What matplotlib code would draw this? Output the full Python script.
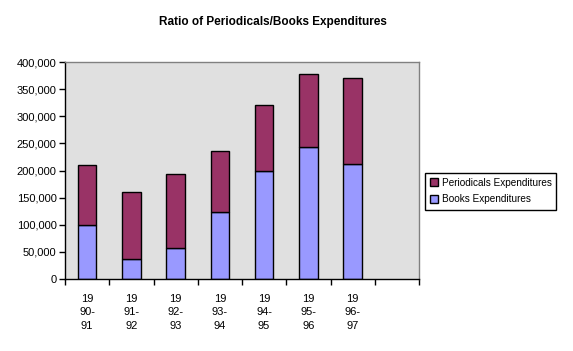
import matplotlib.pyplot as plt
import numpy as np
from matplotlib.ticker import FuncFormatter, FixedLocator

plt.rcParams['font.family'] = ['Liberation Sans', 'DejaVu Sans']

years = ["19\n90-\n91", "19\n91-\n92", "19\n92-\n93", "19\n93-\n94",
         "19\n94-\n95", "19\n95-\n96", "19\n96-\n97"]
books = [100000, 36000, 57000, 123000, 199000, 243000, 212000]
periodicals_total = [210000, 160000, 193000, 236000, 320000, 377000, 370000]
periodicals = [t - b for t, b in zip(periodicals_total, books)]

fig = plt.figure(figsize=(5.73, 3.51), dpi=100)
ax = fig.add_axes([65 / 573, 1 - 279 / 351, 354 / 573, 217 / 351])
ax.set_facecolor('#E0E0E0')

x = np.arange(len(years))
ax.bar(x, books, width=0.42, color='#9999FF', edgecolor='black', linewidth=1,
       label='Books Expenditures')
ax.bar(x, periodicals, bottom=books, width=0.42, color='#993366', edgecolor='black',
       linewidth=1, label='Periodicals Expenditures')

ax.set_xlim(-0.5, 7.5)
ax.set_ylim(0, 400000)
ax.set_yticks(np.arange(0, 400001, 50000))
ax.yaxis.set_major_formatter(FuncFormatter(lambda v, p: f"{int(v):,}"))
ax.set_xticks(x)
ax.set_xticklabels(years, linespacing=1.4)
ax.xaxis.set_minor_locator(FixedLocator(np.arange(-0.5, 8, 1)))
ax.tick_params(axis='x', which='major', length=0, pad=11, labelsize=8)
ax.tick_params(axis='x', which='minor', length=4, direction='out', width=1)
ax.tick_params(axis='y', length=4, direction='out', width=1, labelsize=8, pad=2)

for side in ['top', 'right']:
    ax.spines[side].set_color('#808080')
    ax.spines[side].set_linewidth(1)
for side in ['left', 'bottom']:
    ax.spines[side].set_color('black')
    ax.spines[side].set_linewidth(1)

fig.text(273 / 573, 1 - 22 / 351, "Ratio of Periodicals/Books Expenditures",
         ha='center', va='center', fontsize=8.5, fontweight='bold')

handles, labels = ax.get_legend_handles_labels()
leg = fig.legend(handles[::-1], labels[::-1], loc='center left',
                 bbox_to_anchor=(425 / 573, 1 - 191 / 351), fontsize=7.2,
                 frameon=True, fancybox=False, edgecolor='black', framealpha=1,
                 handlelength=0.75, handleheight=0.75, handletextpad=0.4,
                 borderpad=0.5, labelspacing=0.7, borderaxespad=0)
leg.get_frame().set_linewidth(1)

fig.savefig('out.png', dpi=100)
